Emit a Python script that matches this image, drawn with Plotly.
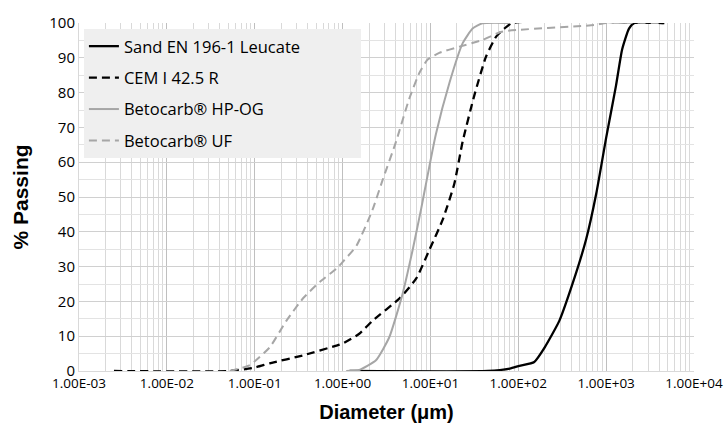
import plotly.graph_objects as go

# ---- data (diameter in µm, % passing) ----
sand_d = [1.2, 45, 80, 103, 152, 200, 293, 411, 590, 772, 1000, 1295, 1520, 1820, 2100, 4600]
sand_p = [0, 0, 0.7, 1.5, 2.6, 6.8, 14.4, 24.8, 37.7, 51, 67, 82, 92.4, 98.4, 100, 100]

cem_d = [0.0025, 0.052, 0.1, 0.148, 0.355, 0.85, 1.0, 1.55, 2.19, 4.46, 6.9, 9.8,
         13.8, 18.7, 23.3, 31.6, 43, 56, 69.5, 85, 4500]
cem_p = [0, 0, 1.0, 2.2, 4.5, 7.3, 7.9, 10.7, 14.4, 20.9, 26.6, 35,
         43.5, 53.8, 66, 79.2, 90.4, 96.1, 98.4, 100, 100]

hpog_d = [1.1, 1.55, 2.4, 3.4, 4.8, 6.3, 7.8, 8.7, 11.5, 16.5, 23.3, 30.2, 39, 80]
hpog_p = [0, 0.3, 3.1, 9.7, 22, 35, 46.3, 52.5, 67.9, 82.9, 94.2, 98.4, 99.9, 100]

uf_d = [0.052, 0.088, 0.148, 0.229, 0.355, 0.55, 0.85, 1.0, 1.44, 2.19, 2.84, 4.07,
        5.75, 7.5, 9.3, 12.6, 21.4, 39, 65, 727, 1000, 4500]
uf_p = [0, 1.7, 6.8, 14.4, 20.9, 25.6, 29.4, 31.3, 36, 46.3, 54.7, 66,
        78.3, 85.7, 89.5, 91.4, 93.2, 95.1, 97.5, 99.4, 100, 100]

x_tickvals = [1e-3, 1e-2, 1e-1, 1e0, 1e1, 1e2, 1e3, 1e4]
x_ticktext = ["1.00E-03", "1.00E-02", "1.00E-01", "1.00E+00",
              "1.00E+01", "1.00E+02", "1.00E+03", "1.00E+04"]
y_tickvals = [0, 10, 20, 30, 40, 50, 60, 70, 80, 90, 100]

series = [
    ("Sand EN 196-1 Leucate", sand_d, sand_p, "#000000", "solid", 2.3),
    ("CEM I 42.5 R", cem_d, cem_p, "#000000", "8px,5px", 2.3),
    ("Betocarb® HP-OG", hpog_d, hpog_p, "#a6a6a6", "solid", 2),
    ("Betocarb® UF", uf_d, uf_p, "#a6a6a6", "8px,5px", 2),
]

PAD = "\u00a0" * 13  # keeps the legend box as wide as in the reference

fig = go.Figure()
for i, (name, d, p, col, dash, w) in enumerate(series):
    fig.add_trace(go.Scatter(
        x=d, y=p, mode="lines", name=name + (PAD if i == 0 else ""), legendgroup=name,
        line=dict(color=col, width=w, dash=dash, shape="spline", smoothing=0.5),
    ))

fig.update_layout(
    width=724, height=432,
    margin=dict(l=79, r=30, t=16, b=61),
    paper_bgcolor="white", plot_bgcolor="white",
    font=dict(family="Open Sans, Liberation Sans, sans-serif", size=14, color="#000000"),
    showlegend=True,
    legend=dict(
        x=0.008, y=0.983, xanchor="left", yanchor="top",
        bgcolor="#efefef", borderwidth=0,
        font=dict(size=16.5, family="Open Sans, sans-serif", color="#000"),
        traceorder="grouped", tracegroupgap=7,
    ),
)

fig.update_xaxes(
    type="log", range=[-3, 4], automargin=False, ticklabeloverflow="allow",
    tickvals=x_tickvals, ticktext=x_ticktext,
    showgrid=True, gridcolor="#bfbfbf", gridwidth=1,
    minor=dict(showgrid=True, gridcolor="#d9d9d9", gridwidth=1, dtick="D1"),
    showline=True, linecolor="#d9d9d9", zeroline=False,
    ticks="", tickfont=dict(size=13.5),
    title=dict(text="<b>Diameter (μm)</b>", font=dict(family="Liberation Sans, Arial", size=20), standoff=13),
)
fig.update_yaxes(
    range=[0, 100], tickvals=y_tickvals, automargin=True, ticklabeloverflow="allow",
    showgrid=True, gridcolor="#d0d0d0", gridwidth=1,
    minor=dict(showgrid=True, gridcolor="#e3e3e3", dtick=5),
    showline=True, linecolor="#d9d9d9", zeroline=False,
    ticks="", tickfont=dict(size=15),
    title=dict(text="<b>% Passing</b>", font=dict(family="Liberation Sans, Arial", size=21), standoff=14),
)

# remove the default 8px page margin so the figure fills the window exactly
fig.write_html("out.html", config={"displayModeBar": False},
               post_script="document.body.style.margin='0';")
